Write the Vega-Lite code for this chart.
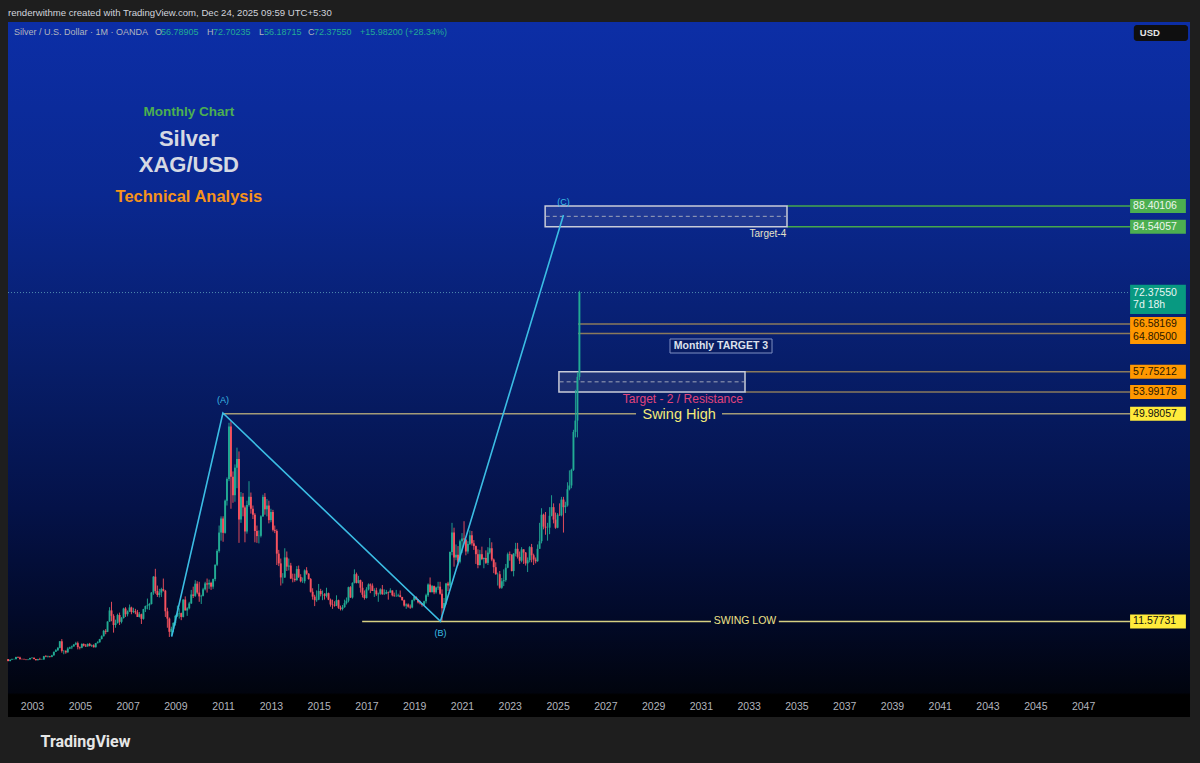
{
"$schema": "https://vega.github.io/schema/vega-lite/v6.json",
"width": 1182, "height": 695,
"autosize": {"type": "none"},
"padding": {"left": 8, "top": 22, "right": 10, "bottom": 46},
"background": "#1e1e1e",
"title": {"text": "renderwithme created with TradingView.com, Dec 24, 2025 09:59 UTC+5:30", "anchor": "start", "frame": "group", "offset": 4, "color": "#d1d4dc", "fontSize": 9.6, "fontWeight": "normal", "font": "Liberation Sans"},
"config": {
  "font": "Liberation Sans",
  "view": {"stroke": null, "fill": {"gradient": "linear", "x1": 0, "y1": 0, "x2": 0, "y2": 1, "stops": [{"offset": 0, "color": "#0c2ea6"}, {"offset": 0.25, "color": "#0a2890"}, {"offset": 0.5, "color": "#071d68"}, {"offset": 0.7, "color": "#041248"}, {"offset": 0.85, "color": "#020a2a"}, {"offset": 0.965, "color": "#01040e"}, {"offset": 0.968, "color": "#000000"}, {"offset": 1, "color": "#000000"}]}},
  "axis": {"domain": false, "ticks": false, "grid": false, "labelFont": "Liberation Sans"}
},
"datasets": {
  "candles": [
{"d":"2002-01","o":4.60,"h":4.62,"l":4.21,"c":4.24},
{"d":"2002-02","o":4.24,"h":4.55,"l":4.20,"c":4.48},
{"d":"2002-03","o":4.48,"h":4.70,"l":4.45,"c":4.57},
{"d":"2002-04","o":4.57,"h":4.68,"l":4.50,"c":4.60},
{"d":"2002-05","o":4.60,"h":5.05,"l":4.58,"c":5.00},
{"d":"2002-06","o":5.00,"h":5.10,"l":4.80,"c":4.90},
{"d":"2002-07","o":4.90,"h":5.05,"l":4.55,"c":4.60},
{"d":"2002-08","o":4.60,"h":4.70,"l":4.50,"c":4.58},
{"d":"2002-09","o":4.58,"h":4.70,"l":4.50,"c":4.55},
{"d":"2002-10","o":4.55,"h":4.60,"l":4.40,"c":4.47},
{"d":"2002-11","o":4.47,"h":4.62,"l":4.40,"c":4.55},
{"d":"2002-12","o":4.55,"h":4.85,"l":4.55,"c":4.79},
{"d":"2003-01","o":4.79,"h":4.95,"l":4.70,"c":4.85},
{"d":"2003-02","o":4.85,"h":4.90,"l":4.55,"c":4.62},
{"d":"2003-03","o":4.62,"h":4.65,"l":4.35,"c":4.40},
{"d":"2003-04","o":4.40,"h":4.65,"l":4.37,"c":4.60},
{"d":"2003-05","o":4.60,"h":4.85,"l":4.45,"c":4.52},
{"d":"2003-06","o":4.52,"h":4.65,"l":4.45,"c":4.53},
{"d":"2003-07","o":4.53,"h":5.20,"l":4.50,"c":5.13},
{"d":"2003-08","o":5.13,"h":5.35,"l":4.95,"c":5.02},
{"d":"2003-09","o":5.02,"h":5.25,"l":4.90,"c":5.12},
{"d":"2003-10","o":5.12,"h":5.20,"l":4.90,"c":5.02},
{"d":"2003-11","o":5.02,"h":5.40,"l":4.95,"c":5.30},
{"d":"2003-12","o":5.30,"h":5.98,"l":5.25,"c":5.96},
{"d":"2004-01","o":5.96,"h":6.45,"l":5.95,"c":6.25},
{"d":"2004-02","o":6.25,"h":6.85,"l":6.10,"c":6.68},
{"d":"2004-03","o":6.68,"h":7.95,"l":6.60,"c":7.90},
{"d":"2004-04","o":7.90,"h":8.30,"l":5.80,"c":6.12},
{"d":"2004-05","o":6.12,"h":6.30,"l":5.50,"c":6.12},
{"d":"2004-06","o":6.12,"h":6.25,"l":5.60,"c":5.85},
{"d":"2004-07","o":5.85,"h":6.80,"l":5.80,"c":6.55},
{"d":"2004-08","o":6.55,"h":6.90,"l":6.45,"c":6.78},
{"d":"2004-09","o":6.78,"h":7.10,"l":6.45,"c":6.95},
{"d":"2004-10","o":6.95,"h":7.40,"l":6.90,"c":7.30},
{"d":"2004-11","o":7.30,"h":7.80,"l":7.20,"c":7.55},
{"d":"2004-12","o":7.55,"h":7.85,"l":6.40,"c":6.82},
{"d":"2005-01","o":6.82,"h":6.95,"l":6.40,"c":6.70},
{"d":"2005-02","o":6.70,"h":7.50,"l":6.60,"c":7.42},
{"d":"2005-03","o":7.42,"h":7.50,"l":6.95,"c":7.10},
{"d":"2005-04","o":7.10,"h":7.40,"l":6.85,"c":6.95},
{"d":"2005-05","o":6.95,"h":7.50,"l":6.90,"c":7.42},
{"d":"2005-06","o":7.42,"h":7.60,"l":6.95,"c":7.05},
{"d":"2005-07","o":7.05,"h":7.30,"l":6.85,"c":7.17},
{"d":"2005-08","o":7.17,"h":7.35,"l":6.75,"c":6.80},
{"d":"2005-09","o":6.80,"h":7.60,"l":6.75,"c":7.55},
{"d":"2005-10","o":7.55,"h":7.90,"l":7.50,"c":7.72},
{"d":"2005-11","o":7.72,"h":8.35,"l":7.65,"c":8.30},
{"d":"2005-12","o":8.30,"h":9.00,"l":8.25,"c":8.83},
{"d":"2006-01","o":8.83,"h":10.00,"l":8.80,"c":9.83},
{"d":"2006-02","o":9.83,"h":10.15,"l":9.20,"c":9.65},
{"d":"2006-03","o":9.65,"h":11.60,"l":9.60,"c":11.55},
{"d":"2006-04","o":11.55,"h":14.20,"l":11.50,"c":13.60},
{"d":"2006-05","o":13.60,"h":15.20,"l":11.60,"c":12.60},
{"d":"2006-06","o":12.60,"h":12.90,"l":9.50,"c":10.90},
{"d":"2006-07","o":10.90,"h":11.90,"l":10.40,"c":11.25},
{"d":"2006-08","o":11.25,"h":13.00,"l":11.20,"c":12.75},
{"d":"2006-09","o":12.75,"h":13.20,"l":10.90,"c":11.50},
{"d":"2006-10","o":11.50,"h":12.40,"l":11.20,"c":12.20},
{"d":"2006-11","o":12.20,"h":14.10,"l":12.10,"c":13.95},
{"d":"2006-12","o":13.95,"h":14.20,"l":12.40,"c":12.90},
{"d":"2007-01","o":12.90,"h":13.60,"l":12.50,"c":13.42},
{"d":"2007-02","o":13.42,"h":14.70,"l":13.30,"c":14.15},
{"d":"2007-03","o":14.15,"h":14.30,"l":12.90,"c":13.30},
{"d":"2007-04","o":13.30,"h":14.10,"l":13.10,"c":13.45},
{"d":"2007-05","o":13.45,"h":13.90,"l":12.90,"c":13.25},
{"d":"2007-06","o":13.25,"h":13.70,"l":12.40,"c":12.40},
{"d":"2007-07","o":12.40,"h":13.30,"l":12.30,"c":12.90},
{"d":"2007-08","o":12.90,"h":13.00,"l":11.10,"c":12.05},
{"d":"2007-09","o":12.05,"h":13.90,"l":11.90,"c":13.85},
{"d":"2007-10","o":13.85,"h":14.50,"l":13.30,"c":14.40},
{"d":"2007-11","o":14.40,"h":15.80,"l":13.80,"c":14.55},
{"d":"2007-12","o":14.55,"h":15.00,"l":13.70,"c":14.80},
{"d":"2008-01","o":14.80,"h":17.00,"l":14.70,"c":16.90},
{"d":"2008-02","o":16.90,"h":19.95,"l":16.50,"c":19.85},
{"d":"2008-03","o":19.85,"h":21.30,"l":16.70,"c":17.20},
{"d":"2008-04","o":17.20,"h":18.20,"l":16.10,"c":16.45},
{"d":"2008-05","o":16.45,"h":17.60,"l":16.00,"c":16.90},
{"d":"2008-06","o":16.90,"h":17.80,"l":16.10,"c":17.55},
{"d":"2008-07","o":17.55,"h":19.50,"l":17.10,"c":17.25},
{"d":"2008-08","o":17.25,"h":17.40,"l":12.40,"c":13.45},
{"d":"2008-09","o":13.45,"h":14.10,"l":10.40,"c":12.10},
{"d":"2008-10","o":12.10,"h":12.30,"l":8.70,"c":9.65},
{"d":"2008-11","o":9.65,"h":10.60,"l":8.90,"c":10.20},
{"d":"2008-12","o":10.20,"h":11.40,"l":9.60,"c":11.30},
{"d":"2009-01","o":11.30,"h":12.80,"l":10.80,"c":12.60},
{"d":"2009-02","o":12.60,"h":14.50,"l":12.40,"c":13.00},
{"d":"2009-03","o":13.00,"h":14.00,"l":12.10,"c":13.10},
{"d":"2009-04","o":13.10,"h":13.20,"l":11.80,"c":12.40},
{"d":"2009-05","o":12.40,"h":15.70,"l":12.30,"c":15.60},
{"d":"2009-06","o":15.60,"h":16.20,"l":13.60,"c":13.60},
{"d":"2009-07","o":13.60,"h":14.20,"l":12.60,"c":14.00},
{"d":"2009-08","o":14.00,"h":15.20,"l":13.80,"c":14.90},
{"d":"2009-09","o":14.90,"h":17.40,"l":14.80,"c":16.55},
{"d":"2009-10","o":16.55,"h":18.00,"l":15.90,"c":16.30},
{"d":"2009-11","o":16.30,"h":19.20,"l":16.10,"c":18.55},
{"d":"2009-12","o":18.55,"h":19.00,"l":16.60,"c":16.90},
{"d":"2010-01","o":16.90,"h":18.90,"l":15.20,"c":16.20},
{"d":"2010-02","o":16.20,"h":16.50,"l":14.80,"c":16.30},
{"d":"2010-03","o":16.30,"h":17.80,"l":16.20,"c":17.50},
{"d":"2010-04","o":17.50,"h":18.90,"l":17.30,"c":18.60},
{"d":"2010-05","o":18.60,"h":19.50,"l":16.90,"c":18.40},
{"d":"2010-06","o":18.40,"h":19.30,"l":17.60,"c":18.70},
{"d":"2010-07","o":18.70,"h":18.90,"l":17.40,"c":18.00},
{"d":"2010-08","o":18.00,"h":19.50,"l":17.60,"c":19.40},
{"d":"2010-09","o":19.40,"h":22.10,"l":19.00,"c":22.05},
{"d":"2010-10","o":22.05,"h":24.90,"l":21.80,"c":24.60},
{"d":"2010-11","o":24.60,"h":29.30,"l":24.30,"c":28.00},
{"d":"2010-12","o":28.00,"h":31.00,"l":26.50,"c":30.60},
{"d":"2011-01","o":30.60,"h":31.00,"l":26.30,"c":27.95},
{"d":"2011-02","o":27.95,"h":34.10,"l":27.80,"c":33.90},
{"d":"2011-03","o":33.90,"h":38.20,"l":33.00,"c":37.90},
{"d":"2011-04","o":37.90,"h":48.30,"l":37.50,"c":47.60},
{"d":"2011-05","o":47.60,"h":48.60,"l":32.40,"c":38.30},
{"d":"2011-06","o":38.30,"h":39.30,"l":33.50,"c":34.90},
{"d":"2011-07","o":34.90,"h":40.60,"l":33.70,"c":40.00},
{"d":"2011-08","o":40.00,"h":43.70,"l":36.20,"c":41.60},
{"d":"2011-09","o":41.60,"h":43.00,"l":26.10,"c":30.40},
{"d":"2011-10","o":30.40,"h":35.50,"l":29.80,"c":34.60},
{"d":"2011-11","o":34.60,"h":35.30,"l":31.00,"c":32.65},
{"d":"2011-12","o":32.65,"h":33.00,"l":26.20,"c":28.20},
{"d":"2012-01","o":28.20,"h":33.90,"l":27.80,"c":33.10},
{"d":"2012-02","o":33.10,"h":37.50,"l":32.80,"c":34.60},
{"d":"2012-03","o":34.60,"h":35.40,"l":31.50,"c":32.40},
{"d":"2012-04","o":32.40,"h":33.00,"l":30.50,"c":31.30},
{"d":"2012-05","o":31.30,"h":31.60,"l":26.20,"c":28.30},
{"d":"2012-06","o":28.30,"h":29.30,"l":26.10,"c":27.35},
{"d":"2012-07","o":27.35,"h":28.40,"l":26.00,"c":27.40},
{"d":"2012-08","o":27.40,"h":31.20,"l":27.10,"c":31.00},
{"d":"2012-09","o":31.00,"h":35.00,"l":30.90,"c":34.60},
{"d":"2012-10","o":34.60,"h":35.30,"l":31.30,"c":32.30},
{"d":"2012-11","o":32.30,"h":34.20,"l":31.00,"c":33.00},
{"d":"2012-12","o":33.00,"h":33.90,"l":29.70,"c":30.30},
{"d":"2013-01","o":30.30,"h":32.40,"l":29.90,"c":31.80},
{"d":"2013-02","o":31.80,"h":32.20,"l":28.20,"c":28.50},
{"d":"2013-03","o":28.50,"h":29.30,"l":27.90,"c":28.30},
{"d":"2013-04","o":28.30,"h":28.60,"l":22.00,"c":24.10},
{"d":"2013-05","o":24.10,"h":24.80,"l":21.80,"c":22.30},
{"d":"2013-06","o":22.30,"h":23.20,"l":18.20,"c":19.70},
{"d":"2013-07","o":19.70,"h":20.50,"l":18.60,"c":19.70},
{"d":"2013-08","o":19.70,"h":25.10,"l":19.60,"c":23.40},
{"d":"2013-09","o":23.40,"h":24.50,"l":20.90,"c":21.70},
{"d":"2013-10","o":21.70,"h":23.20,"l":21.00,"c":21.90},
{"d":"2013-11","o":21.90,"h":22.40,"l":19.40,"c":19.50},
{"d":"2013-12","o":19.50,"h":20.40,"l":18.80,"c":19.45},
{"d":"2014-01","o":19.45,"h":20.40,"l":18.90,"c":19.20},
{"d":"2014-02","o":19.20,"h":21.80,"l":19.10,"c":21.25},
{"d":"2014-03","o":21.25,"h":21.90,"l":19.60,"c":19.80},
{"d":"2014-04","o":19.80,"h":20.30,"l":18.80,"c":19.00},
{"d":"2014-05","o":19.00,"h":19.70,"l":18.70,"c":19.00},
{"d":"2014-06","o":19.00,"h":21.20,"l":18.60,"c":21.00},
{"d":"2014-07","o":21.00,"h":21.60,"l":20.20,"c":20.40},
{"d":"2014-08","o":20.40,"h":20.50,"l":19.30,"c":19.40},
{"d":"2014-09","o":19.40,"h":19.60,"l":16.90,"c":17.05},
{"d":"2014-10","o":17.05,"h":17.70,"l":15.60,"c":16.15},
{"d":"2014-11","o":16.15,"h":16.50,"l":14.40,"c":15.50},
{"d":"2014-12","o":15.50,"h":17.30,"l":15.20,"c":15.60},
{"d":"2015-01","o":15.60,"h":18.50,"l":15.50,"c":17.20},
{"d":"2015-02","o":17.20,"h":17.60,"l":16.20,"c":16.60},
{"d":"2015-03","o":16.60,"h":17.30,"l":15.50,"c":16.60},
{"d":"2015-04","o":16.60,"h":16.80,"l":15.60,"c":16.30},
{"d":"2015-05","o":16.30,"h":17.80,"l":16.00,"c":16.80},
{"d":"2015-06","o":16.80,"h":16.90,"l":15.50,"c":15.60},
{"d":"2015-07","o":15.60,"h":15.80,"l":14.30,"c":14.70},
{"d":"2015-08","o":14.70,"h":15.60,"l":13.90,"c":14.60},
{"d":"2015-09","o":14.60,"h":15.30,"l":14.30,"c":14.50},
{"d":"2015-10","o":14.50,"h":16.40,"l":14.40,"c":15.50},
{"d":"2015-11","o":15.50,"h":15.60,"l":13.90,"c":14.10},
{"d":"2015-12","o":14.10,"h":14.50,"l":13.60,"c":13.85},
{"d":"2016-01","o":13.85,"h":14.60,"l":13.60,"c":14.20},
{"d":"2016-02","o":14.20,"h":15.60,"l":14.10,"c":14.95},
{"d":"2016-03","o":14.95,"h":16.00,"l":14.70,"c":15.40},
{"d":"2016-04","o":15.40,"h":18.00,"l":15.10,"c":17.90},
{"d":"2016-05","o":17.90,"h":18.10,"l":15.90,"c":16.00},
{"d":"2016-06","o":16.00,"h":18.80,"l":15.80,"c":18.70},
{"d":"2016-07","o":18.70,"h":21.20,"l":18.60,"c":20.30},
{"d":"2016-08","o":20.30,"h":20.60,"l":18.60,"c":18.70},
{"d":"2016-09","o":18.70,"h":20.00,"l":18.60,"c":19.20},
{"d":"2016-10","o":19.20,"h":19.30,"l":16.90,"c":17.80},
{"d":"2016-11","o":17.80,"h":18.90,"l":16.00,"c":16.50},
{"d":"2016-12","o":16.50,"h":17.30,"l":15.60,"c":15.90},
{"d":"2017-01","o":15.90,"h":17.90,"l":15.80,"c":17.50},
{"d":"2017-02","o":17.50,"h":18.60,"l":17.30,"c":18.40},
{"d":"2017-03","o":18.40,"h":18.60,"l":16.80,"c":18.20},
{"d":"2017-04","o":18.20,"h":18.60,"l":17.20,"c":17.20},
{"d":"2017-05","o":17.20,"h":17.70,"l":16.10,"c":17.30},
{"d":"2017-06","o":17.30,"h":17.80,"l":16.30,"c":16.60},
{"d":"2017-07","o":16.60,"h":16.90,"l":15.20,"c":16.70},
{"d":"2017-08","o":16.70,"h":17.70,"l":16.50,"c":17.50},
{"d":"2017-09","o":17.50,"h":18.30,"l":16.50,"c":16.60},
{"d":"2017-10","o":16.60,"h":17.50,"l":16.50,"c":16.70},
{"d":"2017-11","o":16.70,"h":17.40,"l":16.60,"c":17.00},
{"d":"2017-12","o":17.00,"h":17.10,"l":15.60,"c":16.90},
{"d":"2018-01","o":16.90,"h":17.70,"l":16.90,"c":17.30},
{"d":"2018-02","o":17.30,"h":17.30,"l":16.20,"c":16.40},
{"d":"2018-03","o":16.40,"h":16.90,"l":16.10,"c":16.30},
{"d":"2018-04","o":16.30,"h":17.40,"l":16.10,"c":16.30},
{"d":"2018-05","o":16.30,"h":16.70,"l":16.10,"c":16.40},
{"d":"2018-06","o":16.40,"h":17.30,"l":16.00,"c":16.10},
{"d":"2018-07","o":16.10,"h":16.10,"l":15.40,"c":15.50},
{"d":"2018-08","o":15.50,"h":15.60,"l":14.30,"c":14.50},
{"d":"2018-09","o":14.50,"h":14.90,"l":13.90,"c":14.70},
{"d":"2018-10","o":14.70,"h":14.90,"l":14.10,"c":14.30},
{"d":"2018-11","o":14.30,"h":14.70,"l":13.90,"c":14.15},
{"d":"2018-12","o":14.15,"h":15.60,"l":14.00,"c":15.50},
{"d":"2019-01","o":15.50,"h":16.20,"l":15.30,"c":16.10},
{"d":"2019-02","o":16.10,"h":16.20,"l":15.60,"c":15.60},
{"d":"2019-03","o":15.60,"h":15.70,"l":14.90,"c":15.10},
{"d":"2019-04","o":15.10,"h":15.40,"l":14.70,"c":14.90},
{"d":"2019-05","o":14.90,"h":14.90,"l":14.30,"c":14.60},
{"d":"2019-06","o":14.60,"h":15.40,"l":14.40,"c":15.30},
{"d":"2019-07","o":15.30,"h":16.70,"l":14.90,"c":16.40},
{"d":"2019-08","o":16.40,"h":18.60,"l":16.10,"c":18.40},
{"d":"2019-09","o":18.40,"h":19.70,"l":16.90,"c":17.00},
{"d":"2019-10","o":17.00,"h":18.30,"l":16.90,"c":18.10},
{"d":"2019-11","o":18.10,"h":18.20,"l":16.60,"c":16.95},
{"d":"2019-12","o":16.95,"h":18.00,"l":16.70,"c":17.85},
{"d":"2020-01","o":17.85,"h":18.90,"l":17.40,"c":18.00},
{"d":"2020-02","o":18.00,"h":18.90,"l":16.50,"c":16.70},
{"d":"2020-03","o":16.70,"h":17.50,"l":11.65,"c":14.00},
{"d":"2020-04","o":14.00,"h":15.90,"l":13.80,"c":15.00},
{"d":"2020-05","o":15.00,"h":18.70,"l":14.70,"c":18.60},
{"d":"2020-06","o":18.60,"h":18.90,"l":17.20,"c":18.20},
{"d":"2020-07","o":18.20,"h":24.50,"l":17.90,"c":24.40},
{"d":"2020-08","o":24.40,"h":29.80,"l":23.80,"c":28.00},
{"d":"2020-09","o":28.00,"h":28.90,"l":21.70,"c":23.40},
{"d":"2020-10","o":23.40,"h":25.80,"l":22.90,"c":23.90},
{"d":"2020-11","o":23.90,"h":25.50,"l":21.90,"c":22.60},
{"d":"2020-12","o":22.60,"h":26.70,"l":22.30,"c":26.40},
{"d":"2021-01","o":26.40,"h":27.90,"l":24.20,"c":26.90},
{"d":"2021-02","o":26.90,"h":30.10,"l":26.00,"c":26.70},
{"d":"2021-03","o":26.70,"h":26.80,"l":23.80,"c":24.50},
{"d":"2021-04","o":24.50,"h":26.40,"l":24.10,"c":25.90},
{"d":"2021-05","o":25.90,"h":28.40,"l":25.70,"c":27.50},
{"d":"2021-06","o":27.50,"h":28.30,"l":25.60,"c":26.00},
{"d":"2021-07","o":26.00,"h":26.60,"l":24.80,"c":25.50},
{"d":"2021-08","o":25.50,"h":25.60,"l":22.20,"c":24.00},
{"d":"2021-09","o":24.00,"h":24.90,"l":21.40,"c":22.00},
{"d":"2021-10","o":22.00,"h":24.80,"l":21.90,"c":24.00},
{"d":"2021-11","o":24.00,"h":25.40,"l":22.90,"c":23.10},
{"d":"2021-12","o":23.10,"h":23.40,"l":21.40,"c":23.30},
{"d":"2022-01","o":23.30,"h":24.70,"l":22.20,"c":22.40},
{"d":"2022-02","o":22.40,"h":25.30,"l":22.00,"c":24.30},
{"d":"2022-03","o":24.30,"h":27.00,"l":24.00,"c":25.10},
{"d":"2022-04","o":25.10,"h":26.20,"l":22.70,"c":23.00},
{"d":"2022-05","o":23.00,"h":23.20,"l":20.50,"c":21.60},
{"d":"2022-06","o":21.60,"h":22.50,"l":20.20,"c":20.30},
{"d":"2022-07","o":20.30,"h":20.60,"l":18.20,"c":20.30},
{"d":"2022-08","o":20.30,"h":20.90,"l":17.60,"c":17.80},
{"d":"2022-09","o":17.80,"h":19.60,"l":17.60,"c":19.00},
{"d":"2022-10","o":19.00,"h":21.20,"l":18.10,"c":19.20},
{"d":"2022-11","o":19.20,"h":22.20,"l":18.90,"c":21.50},
{"d":"2022-12","o":21.50,"h":24.30,"l":21.40,"c":24.00},
{"d":"2023-01","o":24.00,"h":24.50,"l":22.80,"c":23.90},
{"d":"2023-02","o":23.90,"h":24.00,"l":20.80,"c":20.90},
{"d":"2023-03","o":20.90,"h":24.20,"l":19.90,"c":24.10},
{"d":"2023-04","o":24.10,"h":26.10,"l":23.60,"c":25.00},
{"d":"2023-05","o":25.00,"h":26.10,"l":23.20,"c":23.50},
{"d":"2023-06","o":23.50,"h":24.50,"l":22.20,"c":22.80},
{"d":"2023-07","o":22.80,"h":25.30,"l":22.50,"c":24.90},
{"d":"2023-08","o":24.90,"h":24.90,"l":22.20,"c":24.30},
{"d":"2023-09","o":24.30,"h":24.40,"l":21.90,"c":22.30},
{"d":"2023-10","o":22.30,"h":23.40,"l":20.70,"c":22.90},
{"d":"2023-11","o":22.90,"h":25.50,"l":22.50,"c":25.30},
{"d":"2023-12","o":25.30,"h":25.90,"l":22.50,"c":23.80},
{"d":"2024-01","o":23.80,"h":24.10,"l":22.00,"c":23.00},
{"d":"2024-02","o":23.00,"h":23.40,"l":22.30,"c":22.70},
{"d":"2024-03","o":22.70,"h":25.80,"l":22.60,"c":25.00},
{"d":"2024-04","o":25.00,"h":29.80,"l":25.00,"c":26.40},
{"d":"2024-05","o":26.40,"h":32.50,"l":26.00,"c":31.30},
{"d":"2024-06","o":31.30,"h":31.50,"l":28.60,"c":29.10},
{"d":"2024-07","o":29.10,"h":31.80,"l":27.60,"c":28.90},
{"d":"2024-08","o":28.90,"h":29.80,"l":26.50,"c":28.90},
{"d":"2024-09","o":28.90,"h":32.70,"l":27.70,"c":31.10},
{"d":"2024-10","o":31.10,"h":34.90,"l":31.00,"c":32.70},
{"d":"2024-11","o":32.70,"h":33.40,"l":29.70,"c":30.40},
{"d":"2024-12","o":30.40,"h":31.70,"l":28.70,"c":28.90},
{"d":"2025-01","o":28.90,"h":31.60,"l":28.80,"c":31.30},
{"d":"2025-02","o":31.30,"h":33.40,"l":31.10,"c":31.20},
{"d":"2025-03","o":31.20,"h":34.60,"l":31.00,"c":34.10},
{"d":"2025-04","o":34.10,"h":34.60,"l":28.00,"c":32.70},
{"d":"2025-05","o":32.70,"h":33.70,"l":31.60,"c":33.00},
{"d":"2025-06","o":33.00,"h":37.30,"l":32.80,"c":36.00},
{"d":"2025-07","o":36.00,"h":39.50,"l":35.80,"c":36.70},
{"d":"2025-08","o":36.70,"h":39.80,"l":36.20,"c":39.60},
{"d":"2025-09","o":39.60,"h":47.00,"l":39.40,"c":46.60},
{"d":"2025-10","o":46.60,"h":54.40,"l":45.60,"c":48.70},
{"d":"2025-11","o":48.70,"h":57.60,"l":45.60,"c":56.80},
{"d":"2025-12","o":56.78905,"h":72.70235,"l":56.18715,"c":72.3755}
  ],
  "levels": [
    {"d":"2010-12-29","d2":"2028-04-15","p":49.98057,"k":"swing"},
    {"d":"2031-11-20","d2":"2048-12-20","p":49.98057,"k":"swing"},
    {"d":"2016-10-27","d2":"2031-06-05","p":11.57731,"k":"low"},
    {"d":"2034-04-07","d2":"2048-12-20","p":11.57731,"k":"low"},
    {"d":"2034-08-10","d2":"2048-12-20","p":88.40106,"k":"green"},
    {"d":"2034-08-10","d2":"2048-12-20","p":84.54057,"k":"green"},
    {"d":"2025-11-10","d2":"2048-12-20","p":66.58169,"k":"tan"},
    {"d":"2025-11-10","d2":"2048-12-20","p":64.805,"k":"tan"},
    {"d":"2032-11-06","d2":"2048-12-20","p":57.75212,"k":"tan"},
    {"d":"2032-11-06","d2":"2048-12-20","p":53.99178,"k":"tan"}
  ],
  "tags": [
    {"d":"2048-12-20","d2":"2051-04-22","p":88.40106,"t":"88.40106","k":"g"},
    {"d":"2048-12-20","d2":"2051-04-22","p":84.54057,"t":"84.54057","k":"g"},
    {"d":"2048-12-20","d2":"2051-04-22","p":66.58169,"t":"66.58169","k":"o"},
    {"d":"2048-12-20","d2":"2051-04-22","p":64.15,"t":"64.80500","k":"o"},
    {"d":"2048-12-20","d2":"2051-04-22","p":57.75212,"t":"57.75212","k":"o"},
    {"d":"2048-12-20","d2":"2051-04-22","p":53.99178,"t":"53.99178","k":"o"},
    {"d":"2048-12-20","d2":"2051-04-22","p":49.98057,"t":"49.98057","k":"y"},
    {"d":"2048-12-20","d2":"2051-04-22","p":11.57731,"t":"11.57731","k":"y"}
  ],
  "header": [
    {"d":"2002-04-01","p":120.55,"t":"Silver / U.S. Dollar · 1M · OANDA","k":"l"},
    {"d":"2008-02-24","p":120.55,"t":"O","k":"l"},
    {"d":"2008-05-27","p":120.55,"t":"56.78905","k":"v"},
    {"d":"2010-04-28","p":120.55,"t":"H","k":"l"},
    {"d":"2010-07-30","p":120.55,"t":"72.70235","k":"v"},
    {"d":"2012-07-02","p":120.55,"t":"L","k":"l"},
    {"d":"2012-09-17","p":120.55,"t":"56.18715","k":"v"},
    {"d":"2014-07-22","p":120.55,"t":"C","k":"l"},
    {"d":"2014-10-22","p":120.55,"t":"72.37550","k":"v"},
    {"d":"2016-09-24","p":120.55,"t":"+15.98200 (+28.34%)","k":"v"}
  ]
},
"encoding": {
  "x": {"field": "d", "type": "temporal",
        "scale": {"type": "utc", "domain": [{"year": 2001, "month": 12, "date": 30, "utc": true}, {"year": 2051, "month": 6, "date": 24, "utc": true}]},
        "axis": {"orient": "bottom", "offset": -22, "format": "%Y", "labelColor": "#b2b5be", "labelFontSize": 10.5, "labelPadding": 6, "labelOverlap": false, "labelFlush": false,
                 "values": [{"year":2003,"utc":true},{"year":2005,"utc":true},{"year":2007,"utc":true},{"year":2009,"utc":true},{"year":2011,"utc":true},{"year":2013,"utc":true},{"year":2015,"utc":true},{"year":2017,"utc":true},{"year":2019,"utc":true},{"year":2021,"utc":true},{"year":2023,"utc":true},{"year":2025,"utc":true},{"year":2027,"utc":true},{"year":2029,"utc":true},{"year":2031,"utc":true},{"year":2033,"utc":true},{"year":2035,"utc":true},{"year":2037,"utc":true},{"year":2039,"utc":true},{"year":2041,"utc":true},{"year":2043,"utc":true},{"year":2045,"utc":true},{"year":2047,"utc":true}],
                 "title": "TradingView", "titleX": 32, "titleY": 46, "titleAlign": "left", "titleBaseline": "middle", "titleFont": "Roboto", "titleFontSize": 16, "titleFontWeight": "bold", "titleColor": "#e6e6e6"}},
  "y": {"field": "p", "type": "quantitative",
        "scale": {"domain": [-6.1, 122.4], "nice": false, "zero": false},
        "axis": {"orient": "right", "offset": -63, "values": [0,5,10,15,20,25,30,35,40,45,50,55,60,65,70,75,80,85,90,95,100,105,110,115], "format": ".5f", "labelAlign": "left", "labelBaseline": "middle", "labelPadding": 10, "labelColor": "#b2b5be", "labelFontSize": 10.5, "labelOverlap": false, "labelFlush": false, "title": null}}
},
"layer": [
  {"data": {"values": [{"d":"2001-12-30","d2":"2048-12-20","p":72.3755}]},
   "mark": {"type": "rule", "color": "#4f8bb0", "strokeWidth": 1, "strokeDash": [1, 2]},
   "encoding": {"x2": {"field": "d2"}}},
  {"data": {"name": "levels"},
   "mark": {"type": "rule", "strokeWidth": 1.5},
   "encoding": {"x2": {"field": "d2"},
     "color": {"field": "k", "type": "nominal", "legend": null, "scale": {"domain": ["swing", "low", "green", "tan"], "range": ["#a39b78", "#d6cf82", "#46a84c", "#8a7a5c"]}}}},
  {"data": {"values": [{"d":"2024-06-25","d2":"2034-08-10","p":88.40106,"p2":84.54057},{"d":"2025-01-22","d2":"2032-11-06","p":57.75212,"p2":53.99178}]},
   "mark": {"type": "rect", "fill": "#8890b8", "fillOpacity": 0.18, "stroke": "#c9ccd8", "strokeWidth": 1.5},
   "encoding": {"x2": {"field": "d2"}, "y2": {"field": "p2"}}},
  {"data": {"values": [{"d":"2024-07-05","d2":"2034-07-28","p":86.47},{"d":"2025-02-01","d2":"2032-10-25","p":55.87}]},
   "mark": {"type": "rule", "color": "#9ea4b8", "strokeWidth": 1, "strokeDash": [4, 3]},
   "encoding": {"x2": {"field": "d2"}}},
  {"data": {"values": [{"d":"2029-09-16","d2":"2033-12-24","p":63.79,"p2":61.2}]},
   "mark": {"type": "rect", "fill": "#0a1b5c", "fillOpacity": 0.6, "stroke": "#7f8fc2", "strokeWidth": 1},
   "encoding": {"x2": {"field": "d2"}, "y2": {"field": "p2"}}},
  {"data": {"name": "candles"},
   "mark": {"type": "rule", "strokeWidth": 0.9},
   "encoding": {"y": {"field": "l", "type": "quantitative", "axis": null}, "y2": {"field": "h"},
     "color": {"condition": {"test": "datum.c >= datum.o", "value": "#22ab94"}, "value": "#f7525f"}}},
  {"data": {"name": "candles"},
   "mark": {"type": "rule", "strokeWidth": 1.9},
   "encoding": {"y": {"field": "o", "type": "quantitative", "axis": null}, "y2": {"field": "c"},
     "color": {"condition": {"test": "datum.c >= datum.o", "value": "#22ab94"}, "value": "#f7525f"}}},
  {"data": {"values": [{"d":"2008-11-06","p":8.75,"n":1},{"d":"2010-12-29","p":50.1,"n":2},{"d":"2020-02-06","p":11.6,"n":3},{"d":"2025-04-01","p":86.7,"n":4}]},
   "mark": {"type": "line", "color": "#3bbde4", "strokeWidth": 1.6},
   "encoding": {"order": {"field": "n", "type": "quantitative"}}},
  {"data": {"values": [{"d":"2010-12-29","p":52.5,"t":"(A)"},{"d":"2020-02-06","p":9.4,"t":"(B)"},{"d":"2025-04-01","p":89.1,"t":"(C)"}]},
   "mark": {"type": "text", "color": "#3bbde4", "fontSize": 9, "baseline": "middle", "align": "center"},
   "encoding": {"text": {"field": "t"}}},
  {"data": {"values": [{"d":"2033-10-22","p":83.2,"t":"Target-4"}]},
   "mark": {"type": "text", "color": "#e6e2c8", "fontSize": 10, "baseline": "middle", "align": "center"},
   "encoding": {"text": {"field": "t"}}},
  {"data": {"values": [{"d":"2031-11-05","p":62.5,"t":"Monthly TARGET 3"}]},
   "mark": {"type": "text", "color": "#dde1ec", "fontSize": 10.5, "fontWeight": "bold", "baseline": "middle", "align": "center"},
   "encoding": {"text": {"field": "t"}}},
  {"data": {"values": [{"d":"2030-04-01","p":52.65,"t":"Target - 2 / Resistance"}]},
   "mark": {"type": "text", "color": "#e0437c", "fontSize": 12, "baseline": "middle", "align": "center"},
   "encoding": {"text": {"field": "t"}}},
  {"data": {"values": [{"d":"2030-02-03","p":49.8,"t":"Swing High"}]},
   "mark": {"type": "text", "color": "#f3ea78", "fontSize": 14.5, "baseline": "middle", "align": "center"},
   "encoding": {"text": {"field": "t"}}},
  {"data": {"values": [{"d":"2032-11-06","p":11.6,"t":"SWING LOW"}]},
   "mark": {"type": "text", "color": "#efe38a", "fontSize": 10.5, "baseline": "middle", "align": "center"},
   "encoding": {"text": {"field": "t"}}},
  {"data": {"values": [{"d":"2009-07-27","p":105.8,"t":"Monthly Chart"}]},
   "mark": {"type": "text", "color": "#4caf50", "fontSize": 13.5, "fontWeight": "bold", "baseline": "middle", "align": "center"},
   "encoding": {"text": {"field": "t"}}},
  {"data": {"values": [{"d":"2009-07-27","p":100.8,"t":"Silver"},{"d":"2009-07-27","p":96.0,"t":"XAG/USD"}]},
   "mark": {"type": "text", "color": "#d5d9e3", "fontSize": 22, "fontWeight": "bold", "baseline": "middle", "align": "center"},
   "encoding": {"text": {"field": "t"}}},
  {"data": {"values": [{"d":"2009-07-27","p":90.0,"t":"Technical Analysis"}]},
   "mark": {"type": "text", "color": "#f7931a", "fontSize": 16.5, "fontWeight": "bold", "baseline": "middle", "align": "center"},
   "encoding": {"text": {"field": "t"}}},
  {"data": {"name": "header"},
   "mark": {"type": "text", "fontSize": 9, "baseline": "middle", "align": "left"},
   "encoding": {"text": {"field": "t"},
     "color": {"field": "k", "type": "nominal", "legend": null, "scale": {"domain": ["l", "v"], "range": ["#b2b5be", "#22ab94"]}}}},
  {"data": {"name": "tags"},
   "mark": {"type": "rule", "strokeWidth": 14},
   "encoding": {"x2": {"field": "d2"},
     "color": {"field": "k", "type": "nominal", "legend": null, "scale": {"domain": ["g", "o", "y"], "range": ["#4caf50", "#ff9800", "#ffeb3b"]}}}},
  {"data": {"name": "tags"},
   "mark": {"type": "text", "fontSize": 10.5, "baseline": "middle", "align": "left", "dx": 3},
   "encoding": {"text": {"field": "t"},
     "color": {"field": "k", "type": "nominal", "legend": null, "scale": {"domain": ["g", "o", "y"], "range": ["#eef7ee", "#2a1700", "#111111"]}}}},
  {"data": {"values": [{"d":"2048-12-20","d2":"2051-04-22","p":73.8,"p2":68.4}]},
   "mark": {"type": "rect", "fill": "#089981"},
   "encoding": {"x2": {"field": "d2"}, "y2": {"field": "p2"}}},
  {"data": {"values": [{"d":"2048-12-20","p":72.3755,"t":"72.37550"},{"d":"2048-12-20","p":70.07,"t":"7d 18h"}]},
   "mark": {"type": "text", "color": "#e8f6f3", "fontSize": 10.5, "baseline": "middle", "align": "left", "dx": 3},
   "encoding": {"text": {"field": "t"}}},
  {"data": {"values": [{"d":"2049-02-15","d2":"2051-05-25","p":121.84,"p2":118.9}]},
   "mark": {"type": "rect", "fill": "#0f0f10", "cornerRadius": 3},
   "encoding": {"x2": {"field": "d2"}, "y2": {"field": "p2"}}},
  {"data": {"values": [{"d":"2049-02-15","p":120.37,"t":"USD"}]},
   "mark": {"type": "text", "color": "#e6e6e6", "fontSize": 9.5, "fontWeight": "bold", "baseline": "middle", "align": "left", "dx": 6},
   "encoding": {"text": {"field": "t"}}}
],
"resolve": {"scale": {"color": "independent"}}
}
